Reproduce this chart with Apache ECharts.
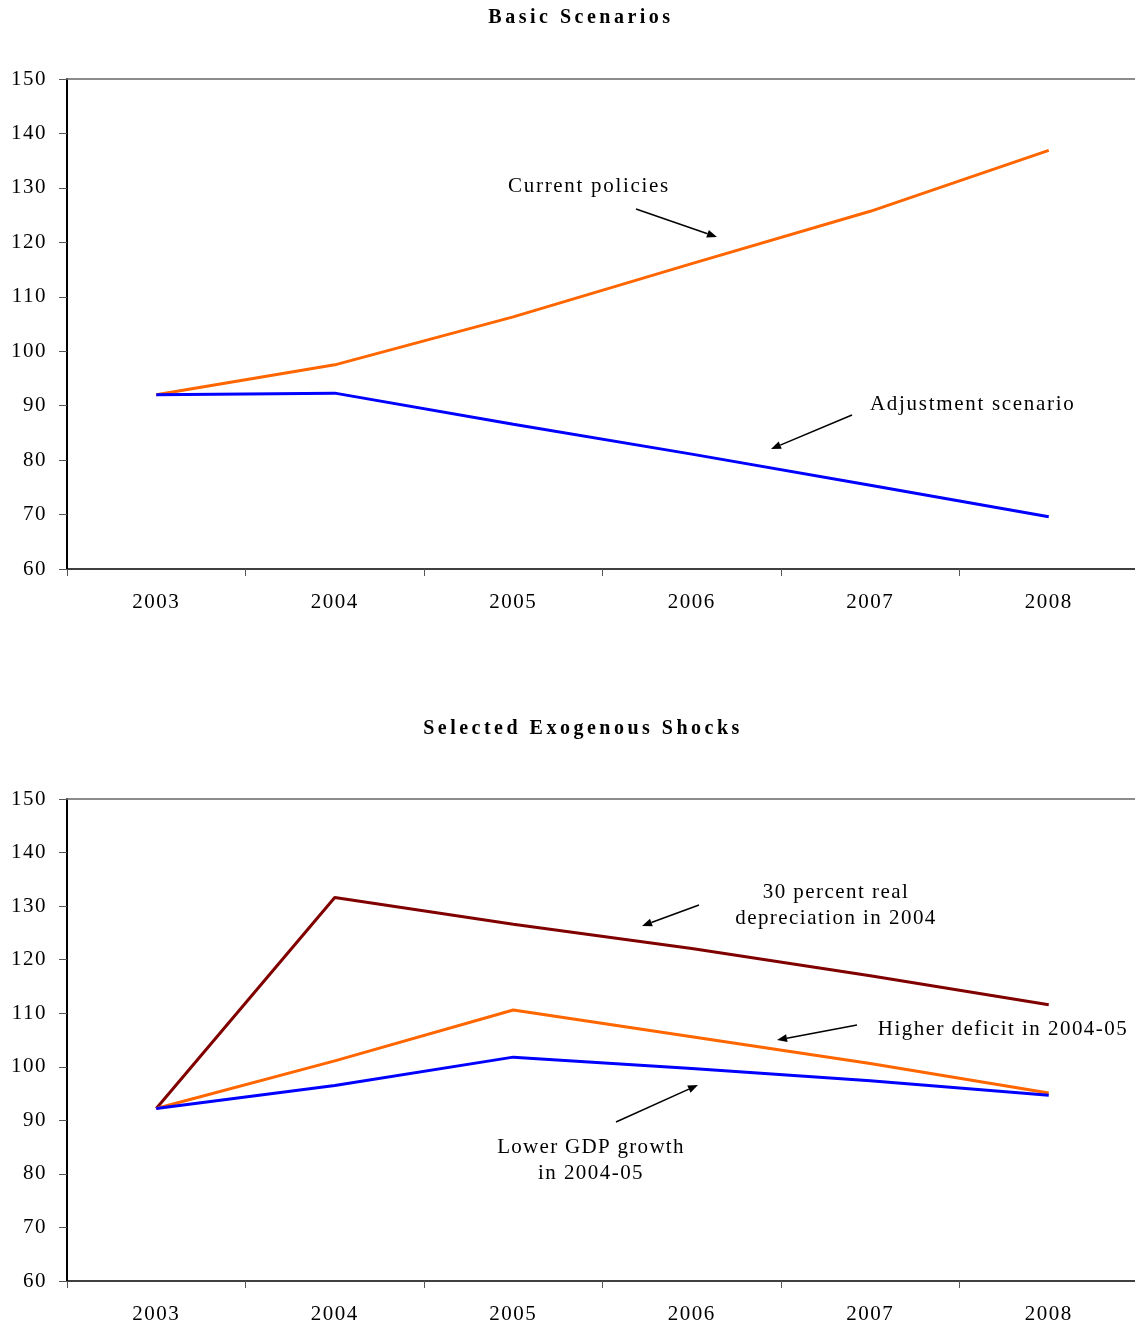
<!DOCTYPE html>
<html>
<head>
<meta charset="utf-8">
<script src="https://cdn.jsdelivr.net/npm/echarts@6/dist/echarts.min.js"></script>
<style>
html,body{margin:0;padding:0;background:#fff;overflow:hidden;}
#chart{width:1140px;height:1329px;}
</style>
</head>
<body>
<div id="chart"></div>
<script>
var years = ['2003','2004','2005','2006','2007','2008'];
var yTicks = [60,70,80,90,100,110,120,130,140,150];

var currentPolicies = [92.0, 97.5, 106.3, 116.1, 125.7, 136.9];
var adjustmentScenario = [92.0, 92.3, 86.6, 81.1, 75.4, 69.6];

var depreciation2004 = [92.2, 131.6, 126.6, 122.1, 117.0, 111.6];
var higherDeficit = [92.2, 101.1, 110.6, 105.6, 100.6, 95.1];
var lowerGDP = [92.2, 96.5, 101.8, 99.7, 97.4, 94.7];

var seriesTitles = ['Basic Scenarios', 'Selected Exogenous Shocks'];

var FONT = '"Liberation Serif", "DejaVu Serif", serif';

// letter spacing like the original typesetting
(function () {
  var proto = CanvasRenderingContext2D.prototype;
  if (!('letterSpacing' in proto)) return;
  var orig = proto.fillText;
  proto.fillText = function (t, x, y, mw) {
    var s = String(t).trim();
    var sp = 1.7;
    if (seriesTitles.indexOf(s) >= 0) sp = 3.5;
    else if (/^\d+$/.test(s)) sp = 1.5;
    else if (/\d/.test(s)) sp = 1.45;
    else if (s === 'Lower GDP growth') sp = 1.3;
    var prev = this.letterSpacing;
    this.letterSpacing = sp + 'px';
    if (mw === undefined) orig.call(this, t, x, y); else orig.call(this, t, x, y, mw);
    this.letterSpacing = prev;
  };
})();

function arrow(x1, y1, x2, y2) {
  var ang = Math.atan2(y2 - y1, x2 - x1);
  var L = 10, W = 4;
  var bx = x2 - L * Math.cos(ang), by = y2 - L * Math.sin(ang);
  var px = -Math.sin(ang) * W, py = Math.cos(ang) * W;
  return [
    { type: 'line', shape: { x1: x1, y1: y1, x2: bx, y2: by }, style: { stroke: '#000', lineWidth: 1.5 } },
    { type: 'polygon', shape: { points: [[x2, y2], [bx + px, by + py], [bx - px, by - py]] }, style: { fill: '#000' } }
  ];
}
function label(x, y, text, align) {
  return { type: 'text', x: x, y: y, style: { text: text, font: '21px ' + FONT, fill: '#000', align: align || 'center', verticalAlign: 'middle', lineHeight: 26 } };
}

var graphics = [].concat(
  label(589, 186, 'Current policies'),
  arrow(636, 209, 717, 237),
  label(870, 404, 'Adjustment scenario', 'left'),
  arrow(852, 415, 771, 449),
  label(836, 905, '30 percent real\ndepreciation in 2004'),
  arrow(699, 905, 642, 926),
  label(1003, 1029, 'Higher deficit in 2004-05'),
  arrow(857, 1025, 777, 1040),
  label(591, 1160, 'Lower GDP growth\nin 2004-05'),
  arrow(616, 1122, 698, 1085)
);

function xAxisBottom(gi) {
  return {
    type: 'category', gridIndex: gi, data: years, boundaryGap: true, position: 'bottom',
    axisLine: { lineStyle: { color: '#000', width: 1.5 } },
    axisTick: { show: true, length: 7, lineStyle: { color: '#555', width: 1 } },
    axisLabel: { color: '#000', fontSize: 21, fontFamily: FONT, margin: 23 },
    splitLine: { show: false }
  };
}
function xAxisTop(gi) {
  return {
    type: 'category', gridIndex: gi, data: years, position: 'top',
    axisLine: { show: true, lineStyle: { color: '#666', width: 1.5 } },
    axisTick: { show: false }, axisLabel: { show: false }, splitLine: { show: false }
  };
}
function yAxis(gi) {
  return {
    type: 'value', gridIndex: gi, min: yTicks[0], max: yTicks[yTicks.length - 1], interval: 10,
    axisLine: { show: true, lineStyle: { color: '#000', width: 2 } },
    axisTick: { show: true, length: 8, lineStyle: { color: '#555', width: 1 } },
    axisLabel: { color: '#000', fontSize: 21, fontFamily: FONT, margin: 20 },
    splitLine: { show: false }
  };
}
function line(name, data, color, xi, yi) {
  return { name: name, type: 'line', data: data, xAxisIndex: xi, yAxisIndex: yi, symbol: 'none', smooth: false,
    lineStyle: { color: color, width: 3 }, itemStyle: { color: color }, animation: false, z: 3 };
}

var chart = echarts.init(document.getElementById('chart'), null, { renderer: 'canvas' });
chart.setOption({
  animation: false,
  backgroundColor: '#fff',
  title: [
    { text: seriesTitles[0], left: 576, top: 3, textAlign: 'center', textStyle: { fontFamily: FONT, fontSize: 20, fontWeight: 'bold', color: '#000' } },
    { text: seriesTitles[1], left: 578, top: 714, textAlign: 'center', textStyle: { fontFamily: FONT, fontSize: 20, fontWeight: 'bold', color: '#000' } }
  ],
  grid: [
    { left: 67, top: 79, width: 1071, height: 490, containLabel: false },
    { left: 67, top: 799, width: 1071, height: 482, containLabel: false }
  ],
  xAxis: [xAxisBottom(0), xAxisTop(0), xAxisBottom(1), xAxisTop(1)],
  yAxis: [yAxis(0), yAxis(1)],
  series: [
    line('Current policies', currentPolicies, '#FF6600', 0, 0),
    line('Adjustment scenario', adjustmentScenario, '#0000FF', 0, 0),
    line('30 percent real depreciation in 2004', depreciation2004, '#800000', 2, 1),
    line('Higher deficit in 2004-05', higherDeficit, '#FF6600', 2, 1),
    line('Lower GDP growth in 2004-05', lowerGDP, '#0000FF', 2, 1)
  ],
  graphic: graphics
});
</script>
</body>
</html>
